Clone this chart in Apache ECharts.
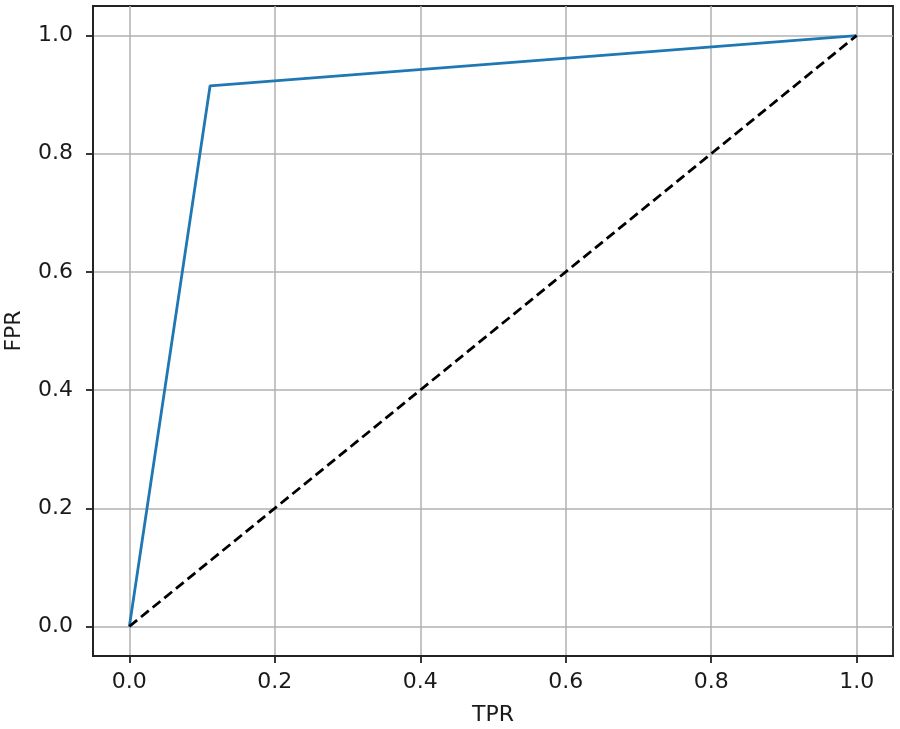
<!DOCTYPE html>
<html>
<head>
<meta charset="utf-8">
<script src="https://cdn.jsdelivr.net/npm/echarts@6/dist/echarts.min.js"></script>
<style>
  html, body { margin: 0; padding: 0; background: #fff; }
  #main { width: 900px; height: 729px; }
</style>
</head>
<body>
<div id="main"></div>
<script>
const tickValues = [0, 0.2, 0.4, 0.6, 0.8, 1.0]
const rocCurve = [[0, 0], [0.111, 0.915], [1, 1]]
const chanceLine = [[0, 0], [1, 1]]

const chart = echarts.init(document.getElementById('main'))

const axisCommon = {
  type: 'value',
  min: -0.05,
  max: 1.05,
  nameLocation: 'middle',
  nameTextStyle: { color: '#1a1a1a', fontSize: 22, fontFamily: 'DejaVu Sans' },
  axisLine: { show: true, onZero: false, lineStyle: { color: '#222', width: 1.8 } },
  axisTick: { show: true, inside: false, length: 7, lineStyle: { color: '#222', width: 1.8 }, customValues: tickValues },
  axisLabel: {
    color: '#1a1a1a', fontSize: 22, fontFamily: 'DejaVu Sans',
    customValues: tickValues,
    formatter: v => v.toFixed(1)
  },
  splitLine: { show: true, lineStyle: { color: '#b0b0b0', width: 1.5 } }
}

chart.setOption({
  animation: false,
  grid: {
    left: 93, right: 7, top: 6, bottom: 73,
    outerBoundsMode: 'none', containLabel: false,
    show: true, borderColor: '#222', borderWidth: 1.8
  },
  xAxis: Object.assign({}, axisCommon, {
    name: 'TPR', nameGap: 48,
    axisLabel: Object.assign({}, axisCommon.axisLabel, { margin: 15 })
  }),
  yAxis: Object.assign({}, axisCommon, {
    name: 'FPR', nameGap: 68,
    axisLabel: Object.assign({}, axisCommon.axisLabel, { margin: 20 })
  }),
  series: [
    {
      type: 'line',
      data: rocCurve,
      symbol: 'none',
      lineStyle: { color: '#1f77b4', width: 2.8 }
    },
    {
      type: 'line',
      data: chanceLine,
      symbol: 'none',
      lineStyle: { color: '#000', width: 2.8, type: [10, 5] }
    }
  ]
})
</script>
</body>
</html>
